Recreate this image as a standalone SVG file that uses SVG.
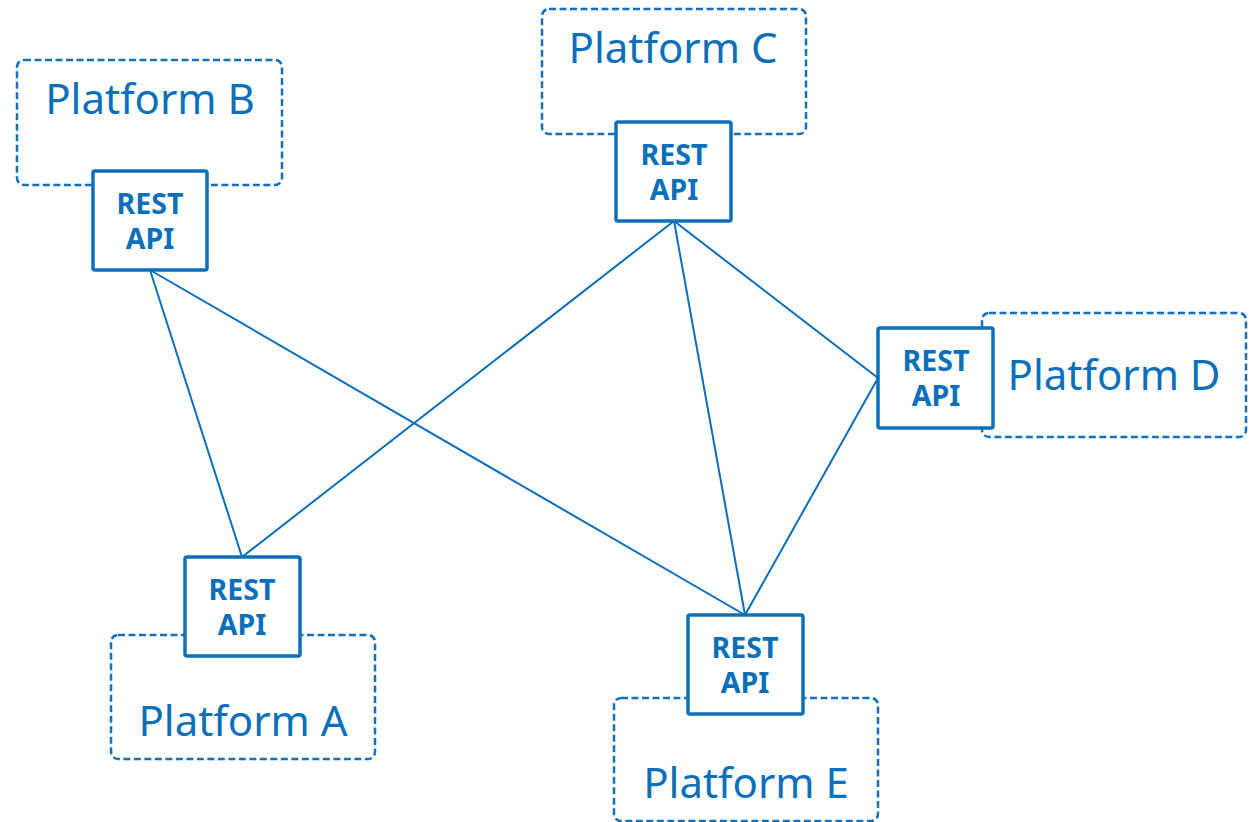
<svg xmlns="http://www.w3.org/2000/svg" width="1256" height="822" viewBox="0 0 1256 822">
<style>
.plat{fill:#fff;stroke:#1472BC;stroke-width:2.5;stroke-dasharray:7 3.5}
.api{fill:#fff;stroke:#0B6FBA;stroke-width:3.5}
.pt{font-family:"Noto Sans","Open Sans",sans-serif;font-size:42px;fill:#0B6FBA;text-anchor:middle}
.at{font-family:"Noto Sans","Open Sans",sans-serif;font-size:28.5px;font-weight:bold;fill:#0B6FBA;text-anchor:middle}
.conn line{stroke:#0B6FBA;stroke-width:2}
</style>
<rect width="1256" height="822" fill="#fff"/>
<g id="connectors" class="conn">
<line x1="150" y1="270" x2="242" y2="557"/>
<line x1="150" y1="270" x2="745" y2="615"/>
<line x1="674" y1="221" x2="242" y2="557"/>
<line x1="674" y1="221" x2="745" y2="615"/>
<line x1="674" y1="221" x2="878" y2="378"/>
<line x1="878" y1="378" x2="745" y2="615"/>
</g>
<g id="platformB">
<rect class="plat" x="17" y="60" width="265" height="125" rx="7"/>
<text class="pt" x="150" y="114">Platform B</text>
<rect class="api" x="93" y="171" width="114" height="99" rx="2"/>
<text class="at" x="150" y="214">REST</text>
<text class="at" x="150" y="249">API</text>
</g>
<g id="platformC">
<rect class="plat" x="542" y="9" width="264" height="125" rx="7"/>
<text class="pt" x="673" y="63">Platform C</text>
<rect class="api" x="616" y="122" width="115" height="99" rx="2"/>
<text class="at" x="674" y="165">REST</text>
<text class="at" x="674" y="200">API</text>
</g>
<g id="platformD">
<rect class="plat" x="982" y="313" width="264" height="124" rx="7"/>
<text class="pt" x="1114" y="390">Platform D</text>
<rect class="api" x="878" y="328" width="115" height="100" rx="2"/>
<text class="at" x="936" y="371">REST</text>
<text class="at" x="936" y="406">API</text>
</g>
<g id="platformA">
<rect class="plat" x="111" y="635" width="264" height="124" rx="7"/>
<text class="pt" x="243" y="736">Platform A</text>
<rect class="api" x="185" y="557" width="115" height="99" rx="2"/>
<text class="at" x="242" y="600">REST</text>
<text class="at" x="242" y="635">API</text>
</g>
<g id="platformE">
<rect class="plat" x="614" y="698" width="264" height="123" rx="7"/>
<text class="pt" x="746" y="798">Platform E</text>
<rect class="api" x="688" y="615" width="115" height="99" rx="2"/>
<text class="at" x="745" y="658">REST</text>
<text class="at" x="745" y="693">API</text>
</g>
</svg>
